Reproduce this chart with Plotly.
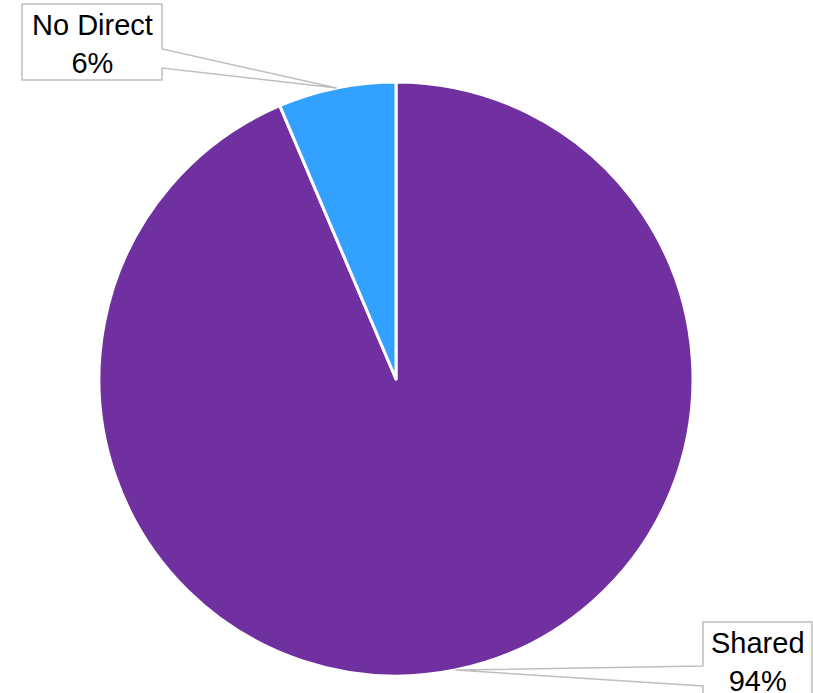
import math
import plotly.graph_objects as go

labels = ["No Direct", "Shared"]
values = [6.4, 93.6]
colors = ["#33A1FF", "#7030A0"]

W, H = 813, 693
CX, CY, R = 396, 379, 297

# draw order: Shared first clockwise from 12 o'clock, No Direct last (ends at 12 o'clock)
order = [1, 0]
d_labels = [labels[i] for i in order]
d_values = [values[i] for i in order]
d_colors = [colors[i] for i in order]

fig = go.Figure(go.Pie(
    labels=d_labels, values=d_values, sort=False, direction="clockwise", rotation=0,
    marker=dict(colors=d_colors, line=dict(color="white", width=3)),
    textinfo="none", hoverinfo="label+percent", showlegend=False,
    domain=dict(x=[(CX - R) / W, (CX + R) / W], y=[1 - (CY + R) / H, 1 - (CY - R) / H]),
))

def px(x):
    return x / W

def py(y):
    return 1 - y / H

boxes = {
    "No Direct": dict(l=22, t=4, r=162, b=80, side="right", a1=49, a2=68),
    "Shared": dict(l=703, t=622, r=812, b=698, side="left", a1=666, a2=686),
}

total = sum(d_values)
cum = 0
shapes = []
annotations = []
for lab, v in zip(d_labels, d_values):
    bx = boxes[lab]
    theta = math.radians(360 * (cum + v / 2) / total)
    cum += v
    tx = CX + R * math.sin(theta)
    ty = CY - R * math.cos(theta)
    l, t, r, b = bx["l"], bx["t"], bx["r"], bx["b"]
    if bx["side"] == "right":
        pts = [(l, t), (r, t), (r, bx["a1"]), (tx, ty), (r, bx["a2"]), (r, b), (l, b)]
    else:
        pts = [(l, t), (r, t), (r, b), (l, b), (l, bx["a2"]), (tx, ty), (l, bx["a1"])]
    path = "M " + " L ".join(f"{px(x):.5f},{py(y):.5f}" for x, y in pts) + " Z"
    shapes.append(dict(type="path", xref="paper", yref="paper", path=path,
                       fillcolor="white", line=dict(color="#BFBFBF", width=1.5), layer="above"))
    pct = round(100 * v / total)
    annotations.append(dict(x=px((l + r) / 2), y=py((t + b) / 2 + 2), xref="paper", yref="paper",
                            text=f"{lab}<br>{pct}%", showarrow=False, xanchor="center", yanchor="middle",
                            font=dict(family="Liberation Sans, Arial, sans-serif", size=29, color="black")))

fig.update_layout(
    width=W, height=H, margin=dict(l=0, r=0, t=0, b=0),
    paper_bgcolor="white", plot_bgcolor="white",
    shapes=shapes, annotations=annotations,
)

fig.write_html("out.html")
